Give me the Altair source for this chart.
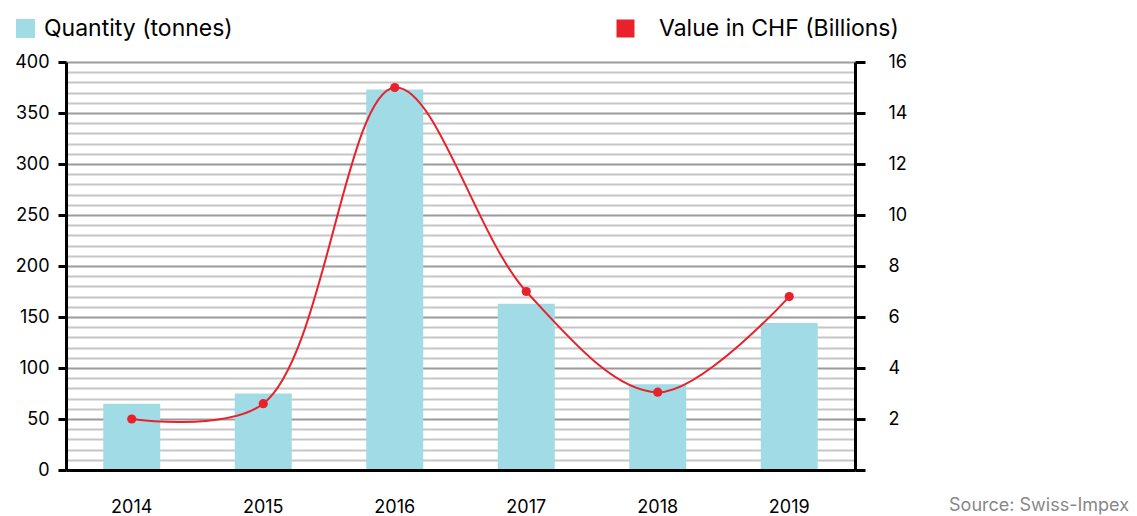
import altair as alt
import pandas as pd

years = ["2014", "2015", "2016", "2017", "2018", "2019"]
quantity = [65, 75, 373, 163, 84, 144]
value_chf = [2.0, 2.6, 15.0, 7.0, 3.05, 6.8]
left_ticks = list(range(0, 401, 10))
right_ticks = list(range(0, 17, 2))

FONT = "Inter"
BLUE = "#a0dbe6"
RED = "#e8212a"

df = pd.DataFrame({
    "year": years,
    "quantity": quantity,
    "value": value_chf,
    "qs": ["Quantity (tonnes)"] * 6,
    "vs": ["Value in CHF (Billions)"] * 6,
})

xenc = alt.X(
    "year:N",
    title=None,
    scale=alt.Scale(paddingInner=0.5665, paddingOuter=0.28325),
    axis=alt.Axis(
        labelAngle=0, ticks=False, domainColor="black", domainWidth=3,
        labelFont=FONT, labelFontSize=18, labelColor="black",
        labelPadding=28, labelBaseline="top", zindex=1, grid=False,
    ),
)

bars = alt.Chart(df).mark_bar(color=BLUE).encode(
    x=xenc,
    y=alt.Y(
        "quantity:Q",
        title=None,
        scale=alt.Scale(domain=[0, 400], nice=False),
        axis=alt.Axis(
            orient="left", values=left_ticks,
            labelExpr="datum.value % 50 === 0 ? datum.label : ''",
            tickOpacity={"condition": {"test": "datum.value % 50 === 0", "value": 1}, "value": 0},
            tickSize=8, tickWidth=3, tickColor="black",
            domainColor="black", domainWidth=3,
            labelFont=FONT, labelFontSize=18, labelColor="black", labelPadding=9,
            grid=True,
            gridColor={"condition": {"test": "datum.value % 50 === 0", "value": "#9a9a9a"}, "value": "#c6c6c6"},
            gridWidth=2, zindex=0,
        ),
    ),
    fill=alt.Fill(
        "qs:N",
        scale=alt.Scale(domain=["Quantity (tonnes)"], range=[BLUE]),
        legend=alt.Legend(
            orient="none", legendX=-52, legendY=-45, title=None,
            symbolType="square", symbolSize=361, symbolStrokeWidth=0,
            labelFont=FONT, labelFontSize=23, labelColor="black", labelOffset=7,
            labelLimit=0, padding=0,
        ),
    ),
)

yright = alt.Y(
    "value:Q",
    title=None,
    scale=alt.Scale(domain=[0, 16], nice=False),
    axis=alt.Axis(
        orient="right", values=right_ticks,
        labelExpr="datum.value === 0 ? '' : datum.label",
        tickSize=10, tickWidth=3, tickColor="black",
        domainColor="black", domainWidth=3,
        labelFont=FONT, labelFontSize=18, labelColor="black", labelPadding=23,
        grid=False, zindex=1,
    ),
)

line = alt.Chart(df).mark_line(color=RED, strokeWidth=2, interpolate="catmull-rom").encode(
    x=alt.X("year:N"),
    y=yright,
)

points = alt.Chart(df).mark_circle(size=85, opacity=1).encode(
    x=alt.X("year:N"),
    y=alt.Y("value:Q"),
    color=alt.Color(
        "vs:N",
        scale=alt.Scale(domain=["Value in CHF (Billions)"], range=[RED]),
        legend=alt.Legend(
            orient="none", legendX=548, legendY=-45, title=None,
            symbolType="square", symbolSize=324, symbolStrokeWidth=0,
            labelFont=FONT, labelFontSize=23, labelColor="black", labelOffset=22,
            labelLimit=0, padding=0,
        ),
    ),
)

src = alt.Chart(pd.DataFrame({"t": ["Source: Swiss-Impex"]})).mark_text(
    align="right", baseline="alphabetic", font=FONT, fontSize=18, color="#888888"
).encode(text="t:N", x=alt.value(1063), y=alt.value(449))

right_layer = alt.layer(line, points, src)

chart = alt.layer(bars, right_layer).resolve_scale(
    y="independent", color="independent", fill="independent"
).properties(
    width=789, height=408,
    autosize=alt.AutoSizeParams(type="none"),
    padding={"left": 58, "top": 54, "right": 274, "bottom": 46},
).configure_view(stroke=None)

chart.save("out.html", embed_options={"renderer": "svg", "actions": False})
